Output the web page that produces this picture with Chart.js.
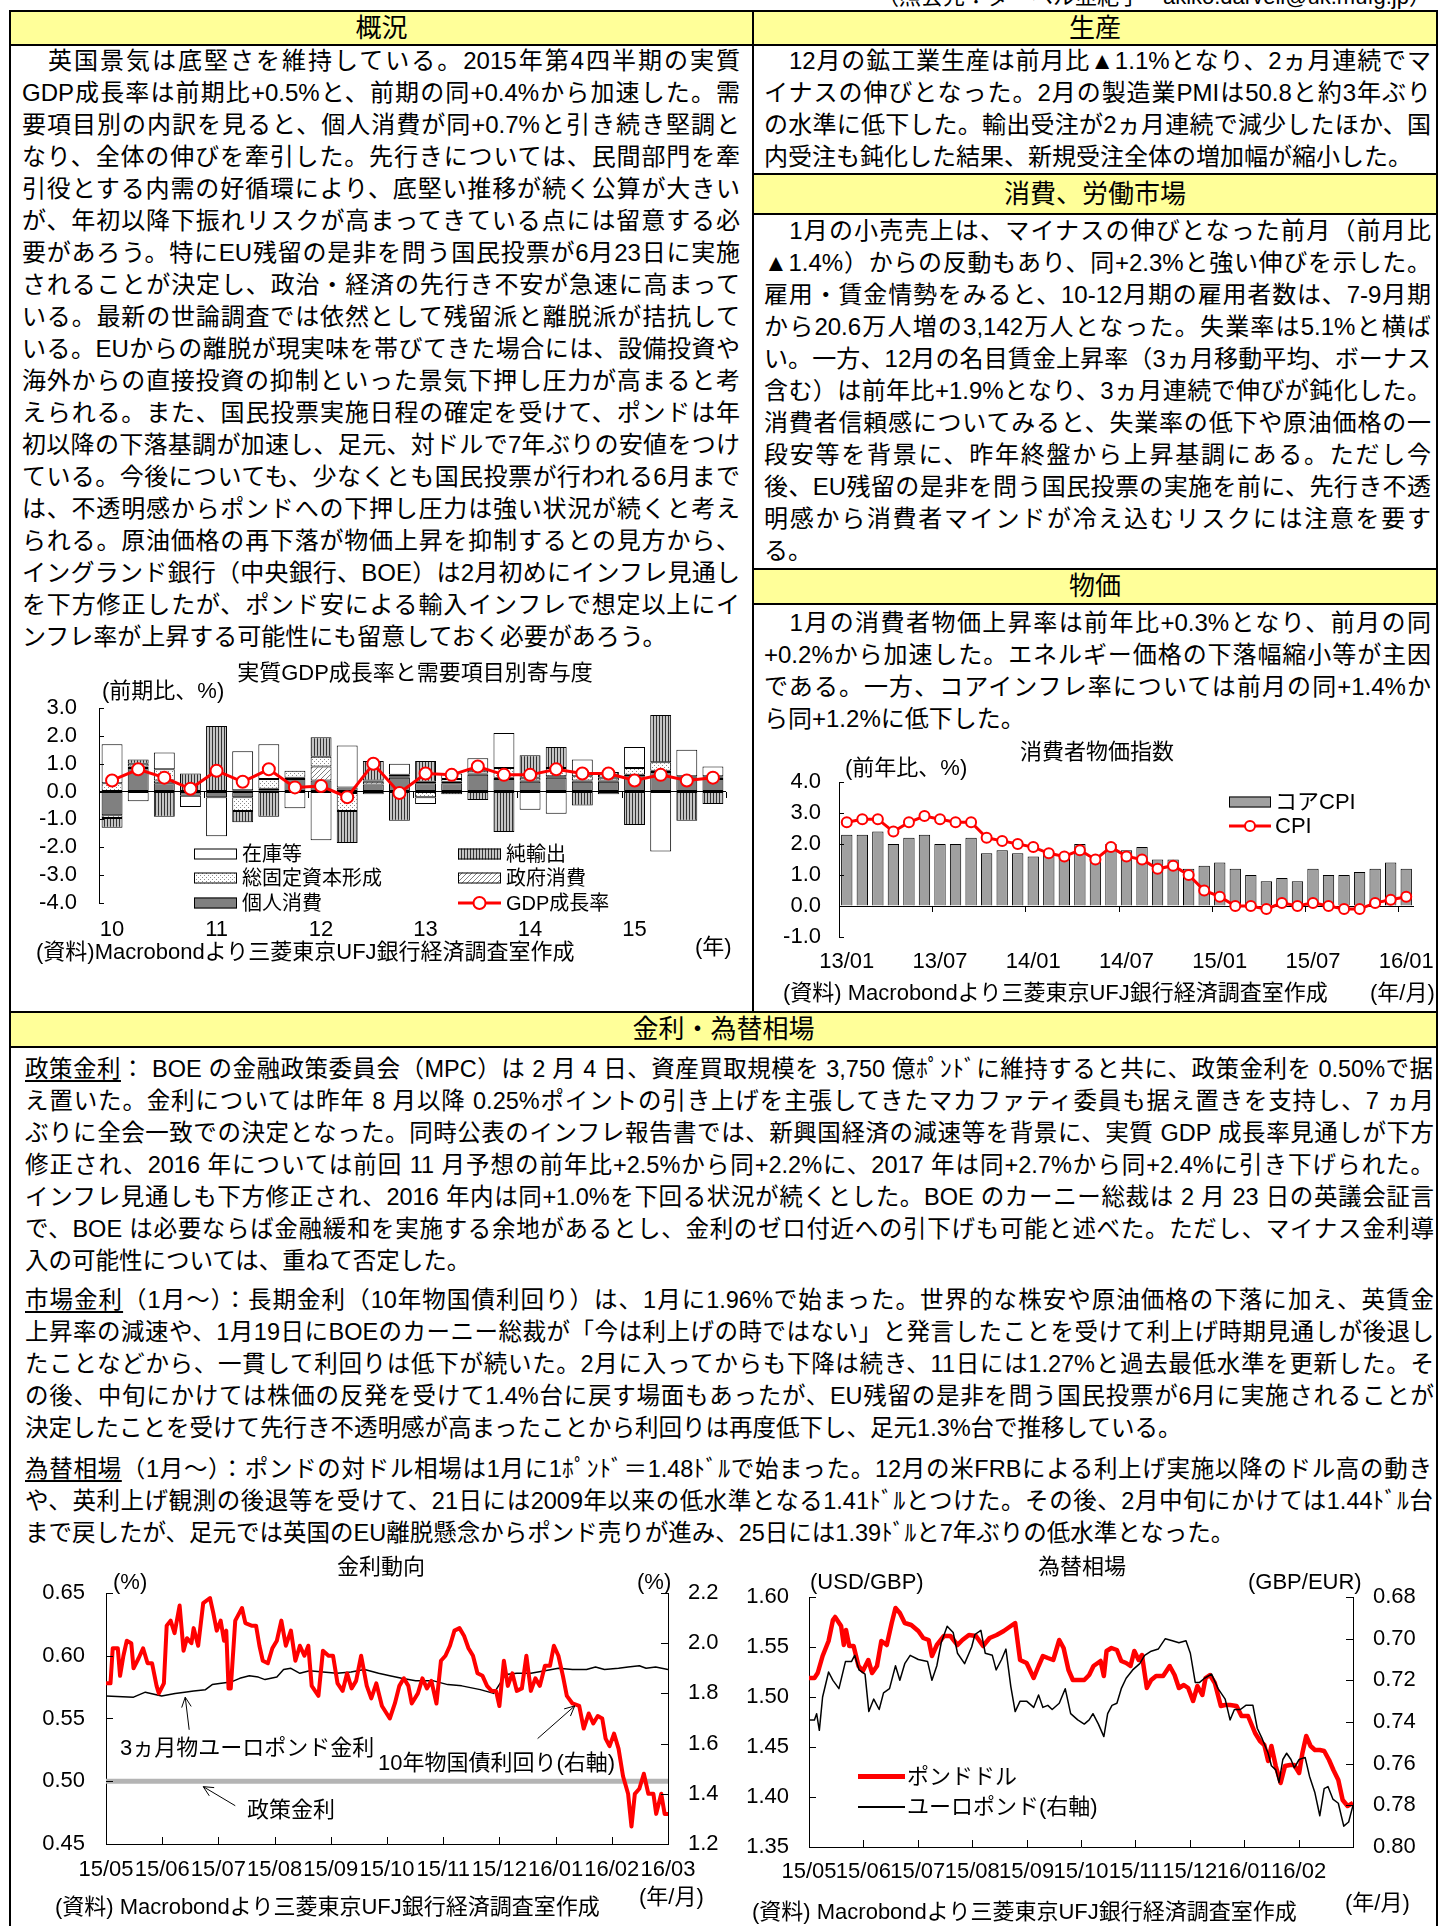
<!DOCTYPE html>
<html>
<head>
<meta charset="utf-8">
<script src="https://cdn.jsdelivr.net/npm/chart.js@4.4.1/dist/chart.umd.min.js"></script>
<style>
html, body { margin: 0; padding: 0; background: #fff; }
body { width: 1440px; height: 1926px; position: relative; overflow: hidden;
  font-family: "Liberation Sans", "Noto Sans CJK JP", sans-serif; color: #000; }
.ln { position: absolute; background: #000; }
.hd { position: absolute; background: #ffff99; text-align: center; font-size: 26px; }
.blk { position: absolute; font-size: 24px; line-height: 32px; }
.blk div { text-align: justify; text-align-last: justify; }
.blk div.e { text-align: left; text-align-last: left; }
.blk.bt { font-size: 23.5px; }
canvas { position: absolute; }
.t { position: absolute; font-size: 22px; line-height: 26px; white-space: nowrap; z-index: 2; }
.c { transform: translateX(-50%); }
u { text-decoration-thickness: 1.5px; text-underline-offset: 3px; }
.sw { position: absolute; z-index: 2; }
</style>
</head>
<body>

<div class="t" style="right:9px;top:-16px;font-size:22px">（照会先：ダーベル亜紀子　akiko.darvell@uk.mufg.jp）</div>

<!-- frame -->
<div class="hd" style="left:11px;top:12px;width:741px;height:32px;line-height:32px">概況</div>
<div class="hd" style="left:754px;top:12px;width:682px;height:32px;line-height:32px">生産</div>
<div class="hd" style="left:754px;top:175px;width:682px;height:38px;line-height:38px">消費、労働市場</div>
<div class="hd" style="left:754px;top:570px;width:682px;height:33px;line-height:33px">物価</div>
<div class="hd" style="left:11px;top:1013px;width:1425px;height:33px;line-height:33px">金利・為替相場</div>

<div class="ln" style="left:9px;top:10px;width:1429px;height:2px"></div>
<div class="ln" style="left:9px;top:10px;width:2px;height:1916px"></div>
<div class="ln" style="left:1436px;top:10px;width:2px;height:1916px"></div>
<div class="ln" style="left:752px;top:10px;width:2px;height:1003px"></div>
<div class="ln" style="left:9px;top:44px;width:1429px;height:2px"></div>
<div class="ln" style="left:752px;top:173px;width:686px;height:2px"></div>
<div class="ln" style="left:752px;top:213px;width:686px;height:2px"></div>
<div class="ln" style="left:752px;top:568px;width:686px;height:2px"></div>
<div class="ln" style="left:752px;top:603px;width:686px;height:2px"></div>
<div class="ln" style="left:9px;top:1011px;width:1429px;height:2px"></div>
<div class="ln" style="left:9px;top:1046px;width:1429px;height:2px"></div>

<!-- 概況 -->
<div class="blk" style="left:22px;top:45px;width:718px">
<div>　英国景気は底堅さを維持している。2015年第4四半期の実質</div>
<div>GDP成長率は前期比+0.5%と、前期の同+0.4%から加速した。需</div>
<div>要項目別の内訳を見ると、個人消費が同+0.7%と引き続き堅調と</div>
<div>なり、全体の伸びを牽引した。先行きについては、民間部門を牽</div>
<div>引役とする内需の好循環により、底堅い推移が続く公算が大きい</div>
<div>が、年初以降下振れリスクが高まってきている点には留意する必</div>
<div>要があろう。特にEU残留の是非を問う国民投票が6月23日に実施</div>
<div>されることが決定し、政治・経済の先行き不安が急速に高まって</div>
<div>いる。最新の世論調査では依然として残留派と離脱派が拮抗して</div>
<div>いる。EUからの離脱が現実味を帯びてきた場合には、設備投資や</div>
<div>海外からの直接投資の抑制といった景気下押し圧力が高まると考</div>
<div>えられる。また、国民投票実施日程の確定を受けて、ポンドは年</div>
<div>初以降の下落基調が加速し、足元、対ドルで7年ぶりの安値をつけ</div>
<div>ている。今後についても、少なくとも国民投票が行われる6月まで</div>
<div>は、不透明感からポンドへの下押し圧力は強い状況が続くと考え</div>
<div>られる。原油価格の再下落が物価上昇を抑制するとの見方から、</div>
<div>イングランド銀行（中央銀行、BOE）は2月初めにインフレ見通し</div>
<div>を下方修正したが、ポンド安による輸入インフレで想定以上にイ</div>
<div class="e">ンフレ率が上昇する可能性にも留意しておく必要があろう。</div>
</div>

<!-- 生産 -->
<div class="blk" style="left:764px;top:45px;width:667px">
<div>　12月の鉱工業生産は前月比▲1.1%となり、2ヵ月連続でマ</div>
<div>イナスの伸びとなった。2月の製造業PMIは50.8と約3年ぶり</div>
<div>の水準に低下した。輸出受注が2ヵ月連続で減少したほか、国</div>
<div class="e">内受注も鈍化した結果、新規受注全体の増加幅が縮小した。</div>
</div>

<!-- 消費、労働市場 -->
<div class="blk" style="left:764px;top:215px;width:667px">
<div>　1月の小売売上は、マイナスの伸びとなった前月（前月比</div>
<div>▲1.4%）からの反動もあり、同+2.3%と強い伸びを示した。</div>
<div>雇用・賃金情勢をみると、10-12月期の雇用者数は、7-9月期</div>
<div>から20.6万人増の3,142万人となった。失業率は5.1%と横ば</div>
<div>い。一方、12月の名目賃金上昇率（3ヵ月移動平均、ボーナス</div>
<div>含む）は前年比+1.9%となり、3ヵ月連続で伸びが鈍化した。</div>
<div>消費者信頼感についてみると、失業率の低下や原油価格の一</div>
<div>段安等を背景に、昨年終盤から上昇基調にある。ただし今</div>
<div>後、EU残留の是非を問う国民投票の実施を前に、先行き不透</div>
<div>明感から消費者マインドが冷え込むリスクには注意を要す</div>
<div class="e">る。</div>
</div>

<!-- 物価 -->
<div class="blk" style="left:764px;top:607px;width:667px">
<div>　1月の消費者物価上昇率は前年比+0.3%となり、前月の同</div>
<div>+0.2%から加速した。エネルギー価格の下落幅縮小等が主因</div>
<div>である。一方、コアインフレ率については前月の同+1.4%か</div>
<div class="e">ら同+1.2%に低下した。</div>
</div>

<!-- 金利・為替相場 -->
<div class="blk bt" style="left:25px;top:1053px;width:1409px">
<div><u>政策金利</u>： BOE の金融政策委員会（MPC）は 2 月 4 日、資産買取規模を 3,750 億ﾎﾟﾝﾄﾞに維持すると共に、政策金利を 0.50%で据</div>
<div>え置いた。金利については昨年 8 月以降 0.25%ポイントの引き上げを主張してきたマカファティ委員も据え置きを支持し、7 ヵ月</div>
<div>ぶりに全会一致での決定となった。同時公表のインフレ報告書では、新興国経済の減速等を背景に、実質 GDP 成長率見通しが下方</div>
<div>修正され、2016 年については前回 11 月予想の前年比+2.5%から同+2.2%に、2017 年は同+2.7%から同+2.4%に引き下げられた。</div>
<div>インフレ見通しも下方修正され、2016 年内は同+1.0%を下回る状況が続くとした。BOE のカーニー総裁は 2 月 23 日の英議会証言</div>
<div>で、BOE は必要ならば金融緩和を実施する余地があるとし、金利のゼロ付近への引下げも可能と述べた。ただし、マイナス金利導</div>
<div class="e">入の可能性については、重ねて否定した。</div>
</div>
<div class="blk bt" style="left:25px;top:1284px;width:1409px">
<div><u>市場金利</u>（1月～）：長期金利（10年物国債利回り）は、1月に1.96%で始まった。世界的な株安や原油価格の下落に加え、英賃金</div>
<div>上昇率の減速や、1月19日にBOEのカーニー総裁が「今は利上げの時ではない」と発言したことを受けて利上げ時期見通しが後退し</div>
<div>たことなどから、一貫して利回りは低下が続いた。2月に入ってからも下降は続き、11日には1.27%と過去最低水準を更新した。そ</div>
<div>の後、中旬にかけては株価の反発を受けて1.4%台に戻す場面もあったが、EU残留の是非を問う国民投票が6月に実施されることが</div>
<div class="e">決定したことを受けて先行き不透明感が高まったことから利回りは再度低下し、足元1.3%台で推移している。</div>
</div>
<div class="blk bt" style="left:25px;top:1453px;width:1409px">
<div><u>為替相場</u>（1月～）：ポンドの対ドル相場は1月に1ﾎﾟﾝﾄﾞ＝1.48ﾄﾞﾙで始まった。12月の米FRBによる利上げ実施以降のドル高の動き</div>
<div>や、英利上げ観測の後退等を受けて、21日には2009年以来の低水準となる1.41ﾄﾞﾙとつけた。その後、2月中旬にかけては1.44ﾄﾞﾙ台</div>
<div class="e">まで戻したが、足元では英国のEU離脱懸念からポンド売りが進み、25日には1.39ﾄﾞﾙと7年ぶりの低水準となった。</div>
</div>

<!-- charts -->
<canvas id="gdp" width="725" height="335" style="left:20px;top:655px"></canvas>
<canvas id="cpi" width="675" height="265" style="left:760px;top:740px"></canvas>
<canvas id="rates" width="715" height="345" style="left:20px;top:1575px"></canvas>
<canvas id="fx" width="700" height="345" style="left:735px;top:1575px"></canvas>

<div class="t c" style="left:415px;top:660px">実質GDP成長率と需要項目別寄与度</div>
<div class="t" style="left:102px;top:678px">(前期比、%)</div>
<div class="t" style="left:36px;top:939px">(資料)Macrobondより三菱東京UFJ銀行経済調査室作成</div>
<div class="t" style="left:695px;top:934px">(年)</div>

<div class="t c" style="left:1097px;top:739px">消費者物価指数</div>
<div class="t" style="left:845px;top:755px">(前年比、%)</div>
<div class="t" style="left:783px;top:980px">(資料) Macrobondより三菱東京UFJ銀行経済調査室作成</div>
<div class="t" style="left:1370px;top:980px">(年/月)</div>

<div class="t c" style="left:381px;top:1554px">金利動向</div>
<div class="t" style="left:113px;top:1569px">(%)</div>
<div class="t" style="left:637px;top:1569px">(%)</div>
<div class="t" style="left:120px;top:1735px">3ヵ月物ユーロポンド金利</div>
<div class="t" style="left:378px;top:1750px">10年物国債利回り(右軸)</div>
<div class="t" style="left:247px;top:1797px">政策金利</div>
<div class="t" style="left:639px;top:1884px">(年/月)</div>
<div class="t" style="left:55px;top:1894px">(資料) Macrobondより三菱東京UFJ銀行経済調査室作成</div>

<div class="t c" style="left:1082px;top:1554px">為替相場</div>
<div class="t" style="left:810px;top:1569px">(USD/GBP)</div>
<div class="t" style="left:1248px;top:1569px">(GBP/EUR)</div>
<div class="sw" style="left:858px;top:1774px;width:47px;height:5px;background:#ff0000"></div>
<div class="sw" style="left:858px;top:1806px;width:47px;height:2px;background:#000"></div>
<div class="t" style="left:907px;top:1764px">ポンドドル</div>
<div class="t" style="left:907px;top:1794px">ユーロポンド(右軸)</div>
<div class="t" style="left:1345px;top:1890px">(年/月)</div>
<div class="t" style="left:752px;top:1899px">(資料) Macrobondより三菱東京UFJ銀行経済調査室作成</div>

<script>
// ---- 実質GDP成長率と需要項目別寄与度 (2010Q1-2015Q4)
const quarters = ['10Q1','10Q2','10Q3','10Q4','11Q1','11Q2','11Q3','11Q4','12Q1','12Q2','12Q3','12Q4',
  '13Q1','13Q2','13Q3','13Q4','14Q1','14Q2','14Q3','14Q4','15Q1','15Q2','15Q3','15Q4']
const consumption = [-0.85, 0.85, 0.3, -0.15, -0.2, -0.2, 0.05, 0.45, 0.4, 0.15, 0.25, 0.5,
  0.3, 0.3, 0.6, 0.45, 0.35, 0.5, 0.35, 0.35, 0.55, 0.7, 0.5, 0.45]
const government = [-0.1, 0.05, 0.1, 0.0, 0.0, 0.05, 0.05, 0.05, 0.5, -0.05, 0.1, 0.05,
  0.05, 0.05, 0.05, 0.05, 0.05, 0.05, 0.05, 0.05, 0.05, 0.05, 0.05, 0.05]
const investment = [0.3, 0.1, 0.4, 0.0, 0.0, -0.5, 0.35, 0.25, 0.35, -0.65, 0.05, 0.05,
  -0.2, 0.1, 0.1, 0.35, 0.1, 0.3, 0.15, 0.1, 0.25, 0.3, 0.0, 0.05]
const netExports = [-0.35, 0.15, -0.9, 0.65, 2.35, -0.4, -0.9, 0.0, 0.7, -1.15, 0.7, -1.05,
  0.75, -0.1, -0.3, -1.45, 0.8, 0.75, -0.5, 0.2, -1.2, 1.7, -1.05, -0.45]
const inventories = [1.4, -0.35, 0.6, -0.4, -1.4, 1.4, 1.25, -0.6, -1.75, 1.5, -0.1, 0.4,
  -0.25, 0.2, 0.45, 1.25, -0.65, -0.8, 0.6, -0.1, 0.75, -2.15, 0.95, 0.35]
const gdpGrowth = [0.4, 0.8, 0.5, 0.1, 0.75, 0.35, 0.8, 0.15, 0.2, -0.2, 1.0, -0.05,
  0.65, 0.6, 0.9, 0.6, 0.6, 0.8, 0.65, 0.65, 0.4, 0.6, 0.4, 0.5]

// ---- 消費者物価指数 (13/01-16/01)
const months = ['13/01','13/02','13/03','13/04','13/05','13/06','13/07','13/08','13/09','13/10','13/11','13/12',
  '14/01','14/02','14/03','14/04','14/05','14/06','14/07','14/08','14/09','14/10','14/11','14/12',
  '15/01','15/02','15/03','15/04','15/05','15/06','15/07','15/08','15/09','15/10','15/11','15/12','16/01']
const coreCpi = [2.3, 2.3, 2.4, 2.0, 2.2, 2.3, 2.0, 2.0, 2.2, 1.7, 1.8, 1.7,
  1.6, 1.7, 1.6, 2.0, 1.6, 2.0, 1.8, 1.9, 1.5, 1.5, 1.2, 1.3,
  1.4, 1.2, 1.0, 0.8, 0.9, 0.8, 1.2, 1.0, 1.0, 1.1, 1.2, 1.4, 1.2]
const cpi = [2.7, 2.8, 2.8, 2.4, 2.7, 2.9, 2.8, 2.7, 2.7, 2.2, 2.1, 2.0,
  1.9, 1.7, 1.6, 1.8, 1.5, 1.9, 1.6, 1.5, 1.2, 1.3, 1.0, 0.5,
  0.3, 0.0, 0.0, -0.1, 0.1, 0.0, 0.1, 0.0, -0.1, -0.1, 0.1, 0.2, 0.3]

// ---- 金利動向: [months since 2015/05/01, value]
const rateMonths = ['15/05','15/06','15/07','15/08','15/09','15/10','15/11','15/12','16/01','16/02','16/03']
const policyRate = [[0, 0.5], [10, 0.5]]
const euroGbp3m = [[0.00,0.568],[0.49,0.567],[0.70,0.571],[0.99,0.568],[1.23,0.570],[1.40,0.571],[1.56,0.572],
  [1.77,0.573],[1.89,0.577],[2.05,0.578],[2.22,0.579],[2.38,0.582],[2.55,0.584],[2.71,0.583],[2.83,0.581],
  [3.04,0.583],[3.16,0.589],[3.29,0.590],[3.45,0.586],[3.62,0.588],[3.86,0.587],[4.11,0.586],[4.36,0.587],
  [4.60,0.589],[4.85,0.586],[5.05,0.584],[5.26,0.582],[5.51,0.580],[5.83,0.580],[6.08,0.577],[6.33,0.576],
  [6.66,0.573],[6.90,0.570],[7.11,0.585],[7.31,0.586],[7.56,0.586],[7.81,0.588],[8.05,0.590],[8.30,0.589],
  [8.55,0.589],[8.71,0.591],[8.87,0.589],[9.12,0.590],[9.29,0.591],[9.49,0.592],[9.61,0.590],[9.78,0.591],[10.00,0.589]]
const gilt10y = [[0.00,1.84],[0.08,1.84],[0.12,1.98],[0.21,1.98],[0.25,1.87],[0.31,1.95],[0.37,2.01],[0.45,2.00],
  [0.49,1.90],[0.58,1.94],[0.66,1.98],[0.74,1.92],[0.82,1.92],[0.90,1.83],[0.94,1.80],[1.03,1.84],[1.08,2.07],
  [1.15,2.09],[1.22,2.04],[1.31,2.15],[1.38,1.97],[1.44,2.02],[1.52,2.00],[1.56,2.06],[1.64,1.99],[1.73,2.16],
  [1.85,2.18],[1.91,2.12],[1.97,2.05],[2.04,2.09],[2.10,2.01],[2.14,2.05],[2.18,1.82],[2.22,1.82],[2.30,2.09],
  [2.42,2.14],[2.48,2.08],[2.59,2.07],[2.67,2.07],[2.73,1.99],[2.79,1.93],[2.88,1.92],[2.96,1.98],[3.04,2.01],
  [3.12,2.09],[3.20,1.99],[3.29,2.05],[3.37,1.93],[3.45,1.99],[3.53,1.95],[3.60,1.99],[3.66,1.83],[3.78,1.79],
  [3.86,1.97],[3.96,1.95],[4.04,1.95],[4.12,1.84],[4.21,1.81],[4.29,1.88],[4.37,1.82],[4.45,1.85],[4.54,1.95],
  [4.64,1.83],[4.72,1.78],[4.81,1.84],[4.91,1.75],[5.05,1.70],[5.14,1.76],[5.22,1.83],[5.30,1.86],[5.38,1.83],
  [5.44,1.76],[5.55,1.80],[5.63,1.86],[5.71,1.82],[5.79,1.85],[5.88,1.76],[5.96,1.93],[6.04,1.95],[6.12,1.99],
  [6.20,2.05],[6.29,2.06],[6.37,2.03],[6.45,1.98],[6.53,1.95],[6.61,1.88],[6.70,1.87],[6.78,1.83],[6.86,1.81],
  [6.94,1.81],[7.00,1.75],[7.08,1.93],[7.15,1.83],[7.23,1.88],[7.31,1.81],[7.40,1.82],[7.48,1.95],[7.56,1.81],
  [7.64,1.86],[7.72,1.83],[7.81,1.91],[7.90,1.91],[7.97,1.99],[8.05,1.95],[8.13,1.87],[8.20,1.79],[8.30,1.76],
  [8.42,1.75],[8.50,1.66],[8.59,1.72],[8.67,1.68],[8.75,1.71],[8.83,1.70],[8.89,1.62],[8.96,1.59],[9.04,1.64],
  [9.12,1.58],[9.20,1.47],[9.29,1.40],[9.35,1.27],[9.41,1.40],[9.49,1.42],[9.57,1.48],[9.65,1.40],[9.74,1.40],
  [9.79,1.32],[9.88,1.40],[9.94,1.32],[10.00,1.32]]

// ---- 為替相場: [months since 2015/05/01, value]
const fxMonths = ['15/05','15/06','15/07','15/08','15/09','15/10','15/11','15/12','16/01','16/02']
const gbpUsd = [[0.00,1.519],[0.10,1.519],[0.16,1.524],[0.25,1.541],[0.36,1.556],[0.44,1.577],[0.48,1.580],
  [0.59,1.571],[0.64,1.552],[0.68,1.567],[0.74,1.551],[0.82,1.551],[0.91,1.531],[0.99,1.526],[1.09,1.537],
  [1.16,1.524],[1.25,1.531],[1.33,1.556],[1.43,1.552],[1.52,1.574],[1.59,1.589],[1.67,1.584],[1.76,1.574],
  [1.88,1.572],[2.01,1.566],[2.10,1.559],[2.20,1.557],[2.26,1.541],[2.35,1.552],[2.48,1.561],[2.60,1.561],
  [2.73,1.552],[2.82,1.557],[2.94,1.562],[3.07,1.561],[3.20,1.551],[3.32,1.559],[3.45,1.562],[3.58,1.566],
  [3.71,1.571],[3.79,1.574],[3.88,1.537],[4.00,1.534],[4.13,1.519],[4.22,1.531],[4.30,1.541],[4.39,1.539],
  [4.49,1.537],[4.60,1.557],[4.68,1.549],[4.77,1.527],[4.85,1.517],[4.94,1.517],[5.06,1.517],[5.15,1.522],
  [5.23,1.531],[5.36,1.536],[5.42,1.521],[5.47,1.546],[5.56,1.549],[5.66,1.547],[5.74,1.536],[5.83,1.534],
  [5.91,1.531],[5.98,1.546],[6.06,1.537],[6.12,1.542],[6.21,1.509],[6.29,1.517],[6.38,1.521],[6.51,1.521],
  [6.63,1.531],[6.72,1.522],[6.80,1.509],[6.89,1.512],[6.97,1.509],[7.06,1.496],[7.14,1.511],[7.23,1.502],
  [7.29,1.519],[7.37,1.522],[7.46,1.514],[7.57,1.491],[7.65,1.492],[7.74,1.492],[7.86,1.491],[7.95,1.481],
  [8.07,1.481],[8.20,1.464],[8.29,1.456],[8.37,1.452],[8.44,1.436],[8.50,1.451],[8.58,1.431],[8.67,1.414],
  [8.75,1.431],[8.84,1.432],[8.92,1.432],[9.01,1.424],[9.07,1.444],[9.14,1.461],[9.22,1.451],[9.30,1.447],
  [9.39,1.447],[9.47,1.446],[9.56,1.437],[9.64,1.427],[9.73,1.417],[9.81,1.397],[9.90,1.391],[10.00,1.394]]
const eurGbp = [[0.00,0.739],[0.10,0.739],[0.14,0.736],[0.19,0.744],[0.25,0.728],[0.36,0.716],[0.44,0.720],
  [0.55,0.724],[0.67,0.711],[0.78,0.711],[0.84,0.708],[0.92,0.715],[1.03,0.717],[1.10,0.735],[1.19,0.729],
  [1.29,0.734],[1.37,0.726],[1.48,0.724],[1.59,0.713],[1.67,0.720],[1.76,0.712],[1.86,0.708],[2.01,0.710],
  [2.18,0.711],[2.26,0.720],[2.35,0.713],[2.43,0.702],[2.54,0.694],[2.65,0.697],[2.73,0.707],[2.86,0.712],
  [2.99,0.704],[3.05,0.698],[3.16,0.696],[3.24,0.707],[3.37,0.708],[3.44,0.715],[3.54,0.710],[3.62,0.705],
  [3.71,0.723],[3.79,0.735],[3.88,0.730],[4.00,0.730],[4.13,0.733],[4.22,0.727],[4.30,0.733],[4.39,0.732],
  [4.47,0.734],[4.60,0.731],[4.71,0.724],[4.81,0.736],[4.94,0.739],[5.06,0.741],[5.15,0.739],[5.22,0.736],
  [5.32,0.741],[5.42,0.747],[5.49,0.736],[5.57,0.732],[5.66,0.731],[5.74,0.724],[5.83,0.719],[5.95,0.715],
  [6.08,0.712],[6.17,0.708],[6.29,0.706],[6.42,0.705],[6.55,0.700],[6.68,0.701],[6.80,0.702],[6.93,0.701],
  [7.01,0.707],[7.10,0.721],[7.18,0.721],[7.27,0.719],[7.40,0.717],[7.52,0.724],[7.65,0.729],[7.74,0.739],
  [7.82,0.734],[7.93,0.734],[8.03,0.732],[8.16,0.732],[8.24,0.743],[8.33,0.748],[8.44,0.755],[8.50,0.761],
  [8.58,0.763],[8.64,0.769],[8.71,0.758],[8.78,0.755],[8.86,0.758],[8.92,0.762],[9.01,0.758],[9.12,0.757],
  [9.20,0.766],[9.30,0.774],[9.39,0.785],[9.47,0.772],[9.54,0.771],[9.63,0.777],[9.73,0.779],[9.83,0.790],
  [9.92,0.788],[10.00,0.780]]

// ---- arrows for the rate chart labels: [x, y] in data units, arrow head at "to"
const rateArrows = [
  { axis: 'y', from: [1.48, 0.541], to: [1.41, 0.567] },
  { axis: 'y1', from: [7.68, 1.62], to: [8.34, 1.75] },
  { axis: 'y', from: [2.30, 0.4805], to: [1.73, 0.4957] }
]

const FONT = '"Liberation Sans", "Noto Sans CJK JP", sans-serif'
Chart.defaults.font.family = FONT
Chart.defaults.font.size = 22
Chart.defaults.color = '#000'
Chart.defaults.animation = false
Chart.defaults.plugins.legend.display = false
Chart.defaults.plugins.tooltip.enabled = false

function toXY (pairs) {
  return pairs.map(p => ({ x: p[0], y: p[1] }))
}

function tile (ctx, w, h, draw) {
  const c = document.createElement('canvas')
  c.width = w
  c.height = h
  draw(c.getContext('2d'))
  return ctx.createPattern(c, 'repeat')
}

function line (ctx, x1, y1, x2, y2) {
  ctx.beginPath()
  ctx.moveTo(x1, y1)
  ctx.lineTo(x2, y2)
  ctx.stroke()
}

// fixed axis sizes; drop the label overhang so layout.padding alone sets the plot box
function fixWidth (w) {
  return s => { s.width = w; s.paddingTop = 0; s.paddingBottom = 0 }
}
function fixHeight (h) {
  return s => { s.height = h; s.paddingLeft = 0; s.paddingRight = 0 }
}

// ticks on the inside of every value axis
function valueTicks (chart, ids, len) {
  const ctx = chart.ctx
  ids.forEach(id => {
    const s = chart.scales[id]
    const left = s.position === 'left'
    const x0 = left ? s.right : s.left
    s.ticks.forEach(t => {
      const py = Math.round(s.getPixelForValue(t.value)) + 0.5
      line(ctx, x0, py, x0 + (left ? len : -len), py)
    })
  })
}

const gctx = document.getElementById('gdp').getContext('2d')
const pStripes = tile(gctx, 3, 4, g => {
  g.fillStyle = '#c4c4c4'; g.fillRect(0, 0, 3, 4)
  g.fillStyle = '#333'; g.fillRect(0, 0, 1, 4)
})
const pDots = tile(gctx, 4, 4, g => {
  g.fillStyle = '#fff'; g.fillRect(0, 0, 4, 4)
  g.fillStyle = '#8a8a8a'; g.fillRect(0, 0, 1, 1); g.fillRect(2, 2, 1, 1)
})
const pDiag = tile(gctx, 5, 5, g => {
  g.fillStyle = '#fff'; g.fillRect(0, 0, 5, 5)
  g.fillStyle = '#808080'
  for (let i = 0; i < 5; i++) g.fillRect(i, 4 - i, 1, 1)
})

const barStyle = { type: 'bar', stack: 'c', borderColor: '#000', borderWidth: 1, borderSkipped: false,
  barPercentage: 0.8, categoryPercentage: 1, order: 1 }

const gdpDecor = {
  id: 'gdpDecor',
  afterDraw (chart) {
    const { ctx, chartArea: a, scales: { x, y } } = chart
    ctx.save()
    ctx.strokeStyle = '#000'
    ctx.lineWidth = 1
    valueTicks(chart, ['y'], 5)
    const y0 = Math.round(y.getPixelForValue(0))
    for (let i = 4; i <= quarters.length; i += 4) {
      const px = Math.round(x.getPixelForValue(i - 0.5)) + 0.5
      line(ctx, px, y0, px, y0 + 6)
    }
    const items = [
      { label: '在庫等', fill: '#fff', col: 0, row: 0 },
      { label: '純輸出', fill: pStripes, col: 1, row: 0 },
      { label: '総固定資本形成', fill: pDots, col: 0, row: 1 },
      { label: '政府消費', fill: pDiag, col: 1, row: 1 },
      { label: '個人消費', fill: '#808080', col: 0, row: 2 },
      { label: 'GDP成長率', line: true, col: 1, row: 2 }
    ]
    ctx.font = '20px ' + FONT
    ctx.textBaseline = 'middle'
    items.forEach(it => {
      const sx = a.left + 95 + it.col * 264
      const sy = Math.round(a.top + 146 + it.row * 24.4)
      if (it.line) {
        ctx.strokeStyle = '#ff0000'
        ctx.lineWidth = 3
        line(ctx, sx, sy, sx + 43, sy)
        ctx.beginPath()
        ctx.arc(sx + 21.5, sy, 6, 0, Math.PI * 2)
        ctx.fillStyle = '#fff'
        ctx.fill()
        ctx.lineWidth = 2
        ctx.stroke()
      } else {
        ctx.fillStyle = it.fill
        ctx.fillRect(sx, sy - 5.5, 43, 11)
        ctx.strokeStyle = '#000'
        ctx.lineWidth = 1
        ctx.strokeRect(sx + 0.5, sy - 5, 42, 10)
      }
      ctx.fillStyle = '#000'
      ctx.fillText(it.label, sx + 48, sy + 1)
    })
    ctx.restore()
  }
}

new Chart(gctx, {
  data: {
    labels: quarters,
    datasets: [
      { type: 'line', label: 'GDP成長率', data: gdpGrowth, stack: 'g', order: 0, borderColor: '#ff0000',
        borderWidth: 3, pointRadius: 6, pointBackgroundColor: '#fff', pointBorderColor: '#ff0000',
        pointBorderWidth: 2, tension: 0 },
      { ...barStyle, label: '個人消費', data: consumption, backgroundColor: '#808080' },
      { ...barStyle, label: '政府消費', data: government, backgroundColor: pDiag },
      { ...barStyle, label: '総固定資本形成', data: investment, backgroundColor: pDots },
      { ...barStyle, label: '純輸出', data: netExports, backgroundColor: pStripes },
      { ...barStyle, label: '在庫等', data: inventories, backgroundColor: '#fff' }
    ]
  },
  options: {
    responsive: false,
    devicePixelRatio: 1,
    layout: { padding: { top: 53, right: 19, left: 0, bottom: 0 } },
    scales: {
      x: {
        stacked: true,
        grid: { display: false, drawTicks: false },
        border: { display: false },
        ticks: { autoSkip: false, maxRotation: 0, padding: 14,
          callback: (v, i) => quarters[i].endsWith('Q1') ? quarters[i].slice(0, 2) : '' },
        afterFit: fixHeight(87)
      },
      y: {
        stacked: true, min: -4, max: 3,
        ticks: { stepSize: 1, autoSkip: false, padding: 22, callback: v => v.toFixed(1) },
        grid: { drawTicks: false, color: c => c.tick.value === 0 ? '#000' : 'rgba(0,0,0,0)' },
        border: { color: '#000' },
        afterFit: fixWidth(79)
      }
    }
  },
  plugins: [gdpDecor]
})

const cpiDecor = {
  id: 'cpiDecor',
  afterDraw (chart) {
    const { ctx, chartArea: a, scales: { x, y } } = chart
    ctx.save()
    ctx.strokeStyle = '#000'
    ctx.lineWidth = 1
    valueTicks(chart, ['y'], 5)
    const y0 = Math.round(y.getPixelForValue(0))
    for (let i = 6; i <= months.length; i += 6) {
      const px = Math.round(x.getPixelForValue(i - 0.5)) + 0.5
      line(ctx, px, y0, px, y0 + 6)
    }
    const sx = a.left + 390
    const r1 = Math.round(a.top + 19.7)
    const r2 = Math.round(a.top + 44)
    ctx.fillStyle = '#a0a0a0'
    ctx.fillRect(sx, r1 - 5.5, 42, 11)
    ctx.strokeRect(sx + 0.5, r1 - 5, 41, 10)
    ctx.strokeStyle = '#ff0000'
    ctx.lineWidth = 3
    line(ctx, sx, r2, sx + 42, r2)
    ctx.beginPath()
    ctx.arc(sx + 21, r2, 5, 0, Math.PI * 2)
    ctx.fillStyle = '#fff'
    ctx.fill()
    ctx.lineWidth = 2
    ctx.stroke()
    ctx.font = '22px ' + FONT
    ctx.textBaseline = 'middle'
    ctx.fillStyle = '#000'
    ctx.fillText('コアCPI', sx + 46, r1 + 1)
    ctx.fillText('CPI', sx + 46, r2 + 1)
    ctx.restore()
  }
}

new Chart(document.getElementById('cpi'), {
  data: {
    labels: months,
    datasets: [
      { type: 'line', label: 'CPI', data: cpi, order: 0, borderColor: '#ff0000', borderWidth: 3,
        pointRadius: 5, pointBackgroundColor: '#fff', pointBorderColor: '#ff0000', pointBorderWidth: 2, tension: 0 },
      { type: 'bar', label: 'コアCPI', data: coreCpi, order: 1, backgroundColor: '#a0a0a0', borderColor: '#000',
        borderWidth: 1, barPercentage: 0.73, categoryPercentage: 1 }
    ]
  },
  options: {
    responsive: false,
    devicePixelRatio: 1,
    layout: { padding: { top: 42, right: 21, left: 0, bottom: 0 } },
    scales: {
      x: {
        grid: { display: false, drawTicks: false },
        border: { display: false },
        ticks: { autoSkip: false, maxRotation: 0, padding: 12,
          callback: (v, i) => i % 6 === 0 ? months[i] : '' },
        afterFit: fixHeight(68)
      },
      y: {
        min: -1, max: 4,
        ticks: { stepSize: 1, autoSkip: false, padding: 18, callback: v => v.toFixed(1) },
        grid: { drawTicks: false, color: c => c.tick.value === 0 ? '#000' : 'rgba(0,0,0,0)' },
        border: { color: '#000' },
        afterFit: fixWidth(79)
      }
    }
  },
  plugins: [cpiDecor]
})

function timeTicks (chart) {
  const { ctx, chartArea: a, scales: { x } } = chart
  for (let m = 1; m < 10; m++) {
    const px = Math.round(x.getPixelForValue(m)) + 0.5
    line(ctx, px, a.bottom, px, a.bottom - 7)
  }
}

const ratesDecor = {
  id: 'ratesDecor',
  afterDraw (chart) {
    const ctx = chart.ctx
    const x = chart.scales.x
    ctx.save()
    ctx.strokeStyle = '#000'
    ctx.lineWidth = 1
    valueTicks(chart, ['y', 'y1'], 7)
    timeTicks(chart)
    rateArrows.forEach(ar => {
      const s = chart.scales[ar.axis]
      const x1 = x.getPixelForValue(ar.from[0])
      const y1 = s.getPixelForValue(ar.from[1])
      const x2 = x.getPixelForValue(ar.to[0])
      const y2 = s.getPixelForValue(ar.to[1])
      line(ctx, x1, y1, x2, y2)
      const ang = Math.atan2(y2 - y1, x2 - x1)
      for (const d of [-0.45, 0.45]) {
        line(ctx, x2, y2, x2 - 11 * Math.cos(ang + d), y2 - 11 * Math.sin(ang + d))
      }
    })
    ctx.restore()
  }
}

new Chart(document.getElementById('rates'), {
  type: 'line',
  data: {
    datasets: [
      { label: '10年物国債利回り(右軸)', data: toXY(gilt10y), yAxisID: 'y1', borderColor: '#ff0000', borderWidth: 4, order: 0 },
      { label: '3ヵ月物ユーロポンド金利', data: toXY(euroGbp3m), yAxisID: 'y', borderColor: '#000', borderWidth: 1.5, order: 1 },
      { label: '政策金利', data: toXY(policyRate), yAxisID: 'y', borderColor: '#b4b4b4', borderWidth: 5, order: 2 }
    ]
  },
  options: {
    responsive: false,
    devicePixelRatio: 1,
    elements: { point: { radius: 0 }, line: { tension: 0, borderJoinStyle: 'round' } },
    layout: { padding: { top: 18, right: 0, left: 0, bottom: 0 } },
    scales: {
      x: {
        type: 'linear', min: 0, max: 10,
        grid: { display: false, drawTicks: false },
        border: { color: '#000' },
        ticks: { stepSize: 1, autoSkip: false, maxRotation: 0, padding: 13,
          callback: v => rateMonths[v] ?? '' },
        afterFit: fixHeight(76)
      },
      y: {
        position: 'left', min: 0.45, max: 0.65,
        ticks: { stepSize: 0.05, autoSkip: false, padding: 21, callback: v => v.toFixed(2) },
        grid: { drawOnChartArea: false, drawTicks: false },
        border: { color: '#000' },
        afterFit: fixWidth(86)
      },
      y1: {
        position: 'right', min: 1.2, max: 2.2,
        ticks: { stepSize: 0.2, autoSkip: false, padding: 20, callback: v => v.toFixed(1) },
        grid: { drawOnChartArea: false, drawTicks: false },
        border: { color: '#000' },
        afterFit: fixWidth(67)
      }
    }
  },
  plugins: [ratesDecor]
})

const fxDecor = {
  id: 'fxDecor',
  afterDraw (chart) {
    const ctx = chart.ctx
    ctx.save()
    ctx.strokeStyle = '#000'
    ctx.lineWidth = 1
    valueTicks(chart, ['y', 'y1'], 7)
    timeTicks(chart)
    ctx.restore()
  }
}

new Chart(document.getElementById('fx'), {
  type: 'line',
  data: {
    datasets: [
      { label: 'ユーロポンド(右軸)', data: toXY(eurGbp), yAxisID: 'y1', borderColor: '#000', borderWidth: 1.5, order: 0 },
      { label: 'ポンドドル', data: toXY(gbpUsd), yAxisID: 'y', borderColor: '#ff0000', borderWidth: 4.5, order: 1 }
    ]
  },
  options: {
    responsive: false,
    devicePixelRatio: 1,
    elements: { point: { radius: 0 }, line: { tension: 0, borderJoinStyle: 'round' } },
    layout: { padding: { top: 22, right: 0, left: 0, bottom: 0 } },
    scales: {
      x: {
        type: 'linear', min: 0, max: 10,
        grid: { display: false, drawTicks: false },
        border: { color: '#000' },
        ticks: { stepSize: 1, autoSkip: false, maxRotation: 0, padding: 12,
          callback: v => fxMonths[v] ?? '' },
        afterFit: fixHeight(73)
      },
      y: {
        position: 'left', min: 1.35, max: 1.6,
        ticks: { stepSize: 0.05, autoSkip: false, padding: 20, callback: v => v.toFixed(2) },
        grid: { drawOnChartArea: false, drawTicks: false },
        border: { color: '#000' },
        afterFit: fixWidth(74)
      },
      y1: {
        position: 'right', min: 0.68, max: 0.8, reverse: true,
        ticks: { stepSize: 0.02, autoSkip: false, padding: 20, callback: v => v.toFixed(2) },
        grid: { drawOnChartArea: false, drawTicks: false },
        border: { color: '#000' },
        afterFit: fixWidth(82)
      }
    }
  },
  plugins: [fxDecor]
})
</script>
</body>
</html>
